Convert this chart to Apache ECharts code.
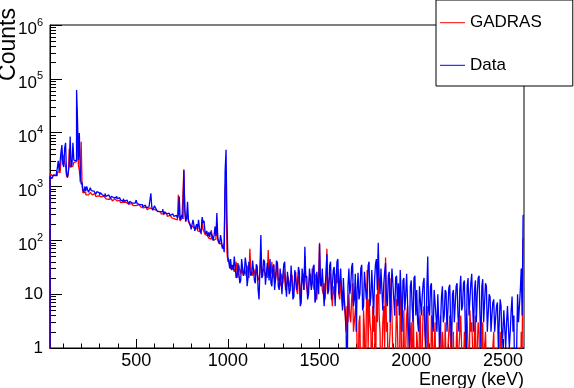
<!DOCTYPE html>
<html>
<head>
<meta charset="utf-8">
<title>GADRAS vs Data</title>
<script src="https://cdn.jsdelivr.net/npm/echarts@6/dist/echarts.min.js"></script>
<style>
  html, body { margin: 0; padding: 0; background: #fff; }
  #chart { width: 574px; height: 388px; }
</style>
</head>
<body>
<div id="chart"></div>
<script>
// spectrum in 5 keV bins, first bin low edge at 30 keV
const binStart = 30;
const binWidth = 5;

// GADRAS simulation (red), counts per bin, one row = 100 keV
const gadras = [
  1750, 1700, 1600, 1550, 1600, 1650, 1700, 1600, 1900, 2000, 1800, 1700, 3000, 4200, 4300, 3500, 2800, 2400, 1600, 1450,
  1700, 5000, 2300, 2200, 2400, 2500, 2800, 2700, 2900, 30000, 9000, 2500, 2000, 1200, 6800, 1000, 760, 720, 790, 700,
  760, 700, 720, 680, 780, 730, 700, 660, 740, 690, 650, 700, 670, 630, 690, 640, 600, 650, 660, 610,
  630, 590, 620, 580, 600, 570, 590, 560, 540, 580, 590, 550, 540, 560, 520, 550, 530, 500, 540, 510,
  520, 490, 510, 480, 500, 470, 490, 460, 480, 450, 470, 440, 420, 440, 450, 430, 460, 430, 420, 410,
  430, 400, 390, 410, 420, 390, 370, 390, 400, 370, 430, 380, 370, 350, 370, 350, 360, 340, 350, 330,
  340, 310, 330, 310, 300, 290, 320, 300, 280, 300, 290, 270, 280, 260, 270, 250, 260, 250, 240, 260,
  700, 280, 230, 250, 260, 240, 2100, 350, 220, 230, 300, 220, 210, 190, 200, 180, 170, 180, 160, 170,
  170, 150, 160, 145, 140, 130, 250, 160, 160, 130, 130, 120, 125, 110, 115, 105, 155, 110, 100, 95,
  105, 115, 200, 100, 90, 85, 85, 80, 75, 70, 90, 900, 1500, 60, 40, 45, 35, 30, 32, 30,
  32, 26, 30, 40, 26, 20, 35, 28, 24, 30, 28, 22, 30, 26, 22, 34, 25, 20, 70, 28,
  26, 22, 30, 26, 22, 30, 28, 18, 20, 26, 60, 24, 26, 30, 30, 22, 24, 20, 66, 24,
  30, 24, 40, 20, 36, 16, 18, 26, 40, 18, 20, 14, 24, 20, 16, 30, 28, 12, 14, 22,
  20, 14, 16, 24, 22, 10, 12, 20, 26, 12, 10, 22, 18, 8, 14, 20, 24, 12, 50, 18,
  18, 10, 14, 20, 24, 14, 30, 16, 12, 24, 20, 8, 16, 22, 90, 14, 20, 12, 10, 16,
  8, 14, 70, 12, 16, 20, 25, 10, 6, 14, 14, 8, 24, 16, 30, 10, 8, 18, 18, 6,
  12, 6, 4, 2, 6, 3, 10, 4, 3, 8, 16, 2, 2, 5, 7, 1, 0, 3, 4, 0,
  1, 0, 5, 2, 0, 4, 28, 1, 8, 3, 2, 0, 6, 2, 4, 0, 10, 3, 55, 4,
  2, 0, 0, 3, 6, 1, 48, 2, 3, 0, 1, 2, 20, 4, 4, 0, 0, 1, 8, 2,
  2, 0, 14, 3, 0, 1, 5, 0, 1, 4, 6, 0, 0, 2, 3, 0, 7, 1, 1, 0,
  2, 1, 0, 3, 4, 0, 1, 5, 6, 2, 2, 0, 6, 1, 1, 0, 4, 2, 0, 1,
  3, 0, 1, 0, 0, 2, 4, 0, 2, 1, 0, 3, 3, 0, 1, 2, 4, 1, 0, 0,
  2, 0, 0, 1, 3, 0, 1, 2, 4, 1, 0, 0, 2, 1, 5, 3, 1, 0, 5, 2,
  3, 1, 0, 2, 4, 0, 1, 3, 2, 0, 0, 1, 3, 0, 1, 2, 2, 0, 0, 1,
  1, 0, 0, 1, 2, 0, 0, 1, 1, 0, 0, 2, 2, 0, 0, 1, 1, 0, 0, 1,
  0, 0, 1, 0, 0, 0, 0, 0, 0, 0, 0, 1, 1, 0, 2, 1, 106
];

// measured spectrum (blue)
const measured = [
  1550, 1450, 1400, 1500, 1650, 1550, 1600, 1800, 2200, 3000, 1900, 1800, 4400, 5900, 2600, 2300, 5200, 6500, 1700, 1500,
  1900, 2500, 8500, 2300, 2600, 6500, 3100, 2900, 3000, 62000, 18000, 3100, 9800, 1900, 1100, 1200, 850, 780, 1000, 820,
  1000, 880, 780, 860, 950, 840, 900, 820, 760, 840, 720, 800, 860, 760, 690, 770, 800, 700, 740, 660,
  740, 650, 620, 700, 760, 680, 600, 660, 690, 610, 560, 640, 650, 590, 560, 620, 640, 560, 590, 530,
  590, 530, 500, 560, 580, 520, 470, 530, 550, 490, 450, 510, 490, 450, 560, 480, 500, 460, 470, 430,
  460, 420, 410, 450, 440, 400, 380, 420, 430, 390, 750, 420, 360, 400, 440, 400, 390, 350, 370, 340,
  360, 320, 340, 380, 300, 340, 350, 310, 290, 320, 330, 290, 270, 310, 320, 280, 260, 290, 300, 260,
  300, 650, 240, 270, 300, 250, 2000, 380, 230, 260, 520, 240, 230, 190, 160, 200, 240, 190, 150, 180,
  200, 160, 240, 170, 140, 160, 270, 210, 230, 150, 130, 150, 120, 140, 115, 145, 150, 120, 100, 125,
  180, 120, 320, 110, 95, 85, 125, 100, 70, 80, 60, 1900, 4800, 250, 50, 40, 30, 45, 28, 35,
  28, 50, 48, 20, 22, 38, 40, 16, 18, 45, 42, 22, 25, 48, 35, 14, 20, 40, 38, 22,
  24, 42, 45, 18, 16, 36, 33, 12, 8, 30, 125, 20, 22, 44, 40, 15, 15, 38, 28, 18,
  45, 16, 14, 32, 35, 12, 20, 42, 38, 14, 12, 30, 30, 10, 22, 36, 40, 14, 9, 26,
  28, 10, 12, 34, 35, 8, 9, 28, 30, 12, 15, 32, 26, 6, 7, 30, 32, 12, 76, 20,
  22, 8, 10, 30, 30, 12, 16, 32, 35, 7, 8, 26, 28, 10, 85, 16, 14, 30, 30, 6,
  6, 24, 55, 10, 12, 34, 40, 8, 8, 28, 32, 6, 18, 40, 45, 10, 10, 30, 28, 5,
  20, 8, 5, 2, 0, 14, 30, 10, 14, 32, 38, 6, 8, 24, 2, 12, 25, 8, 10, 30,
  35, 5, 6, 26, 28, 8, 12, 34, 40, 6, 9, 28, 30, 4, 18, 36, 45, 12, 90, 20,
  10, 30, 32, 5, 15, 26, 38, 8, 6, 22, 26, 3, 12, 30, 30, 8, 4, 20, 22, 6,
  16, 4, 28, 10, 2, 18, 20, 5, 10, 24, 24, 2, 1, 14, 18, 6, 3, 20, 22, 4,
  12, 3, 2, 14, 15, 4, 9, 16, 20, 2, 1, 12, 50, 5, 4, 14, 16, 3, 2, 12,
  12, 4, 2, 10, 10, 1, 1, 9, 14, 3, 4, 12, 11, 2, 2, 13, 15, 3, 1, 10,
  12, 3, 3, 14, 16, 4, 2, 12, 22, 5, 6, 16, 18, 2, 1, 14, 20, 4, 4, 16,
  24, 6, 2, 12, 18, 3, 10, 20, 22, 4, 1, 14, 19, 3, 3, 16, 14, 2, 2, 10,
  9, 2, 4, 7, 8, 2, 2, 6, 7, 1, 3, 8, 6, 1, 2, 5, 5, 1, 3, 6,
  6, 1, 2, 5, 9, 2, 4, 0, 0, 1, 10, 3, 3, 12, 30, 4, 290
];

const xMajorTicks = [500, 1000, 1500, 2000, 2500];
const xMinorTicks = [100, 200, 300, 400, 600, 700, 800, 900, 1100, 1200, 1300, 1400,
  1600, 1700, 1800, 1900, 2100, 2200, 2300, 2400, 2600];
const yMajorTicks = [1, 10, 100, 1000, 10000, 100000, 1000000];
const yMinorTicks = [
  2, 3, 4, 5, 6, 7, 8, 9,
  20, 30, 40, 50, 60, 70, 80, 90,
  200, 300, 400, 500, 600, 700, 800, 900,
  2000, 3000, 4000, 5000, 6000, 7000, 8000, 9000,
  20000, 30000, 40000, 50000, 60000, 70000, 80000, 90000,
  200000, 300000, 400000, 500000, 600000, 700000, 800000, 900000
];

const FONT = '"Liberation Sans", Arial, Helvetica, sans-serif';
const EMPTY = 0.1; // empty bins fall below the log axis and get clipped

// histogram outline: starts on the floor, steps at each bin edge
function histPoints(counts) {
  const pts = [[binStart, EMPTY]];
  counts.forEach((c, i) => {
    pts.push([binStart + i * binWidth, c > 0 ? c : EMPTY]);
  });
  const last = counts[counts.length - 1];
  pts.push([binStart + counts.length * binWidth, last > 0 ? last : EMPTY]);
  return pts;
}

function yLabel(v) {
  if (v < 100) return String(v);
  return '{b|10}{s|' + Math.round(Math.log10(v)) + '}';
}

const chart = echarts.init(document.getElementById('chart'), null, { renderer: 'canvas' });

const option = {
  animation: false,
  textStyle: { fontFamily: FONT },
  grid: {
    left: 50, right: 50, top: 25, bottom: 40,
    show: true, borderColor: '#000', borderWidth: 1,
    outerBoundsMode: 'none'
  },
  legend: {
    orient: 'vertical',
    left: 436, top: 0,
    padding: [12.7, 31, 10.7, 4],
    itemGap: 22.6,
    itemWidth: 25, itemHeight: 1,
    icon: 'rect',
    selectedMode: false,
    backgroundColor: '#fff',
    borderColor: '#000', borderWidth: 1, borderRadius: 0,
    textStyle: { fontSize: 17, lineHeight: 20, color: '#000', fontFamily: FONT }
  },
  xAxis: [
    {
      type: 'value', min: 30, max: 2615, position: 'bottom',
      axisLine: { show: true, lineStyle: { color: '#000', width: 1 } },
      axisTick: { show: true, inside: true, length: 9, customValues: xMajorTicks, lineStyle: { color: '#000' } },
      axisLabel: { customValues: xMajorTicks, formatter: v => String(v), fontSize: 18, color: '#000', margin: 4, fontFamily: FONT },
      splitLine: { show: false }
    },
    {
      type: 'value', min: 30, max: 2615, position: 'bottom',
      axisLine: { show: false },
      axisTick: { show: true, inside: true, length: 4.5, customValues: xMinorTicks, lineStyle: { color: '#000' } },
      axisLabel: { show: false },
      splitLine: { show: false }
    }
  ],
  yAxis: [
    {
      type: 'log', logBase: 10, min: 1, max: 1000000, position: 'left',
      axisLine: { show: true, lineStyle: { color: '#000', width: 1 } },
      axisTick: { show: true, inside: true, length: 12, customValues: yMajorTicks, lineStyle: { color: '#000' } },
      axisLabel: {
        customValues: yMajorTicks, formatter: yLabel,
        fontSize: 17, color: '#000', margin: 7, fontFamily: FONT,
        rich: {
          b: { fontSize: 17, color: '#000', fontFamily: FONT, padding: [9, 0, 0, 0] },
          s: { fontSize: 11, color: '#000', fontFamily: FONT, padding: [0, 0, 5, 0] }
        }
      },
      splitLine: { show: false }
    },
    {
      type: 'log', logBase: 10, min: 1, max: 1000000, position: 'left',
      axisLine: { show: false },
      axisTick: { show: true, inside: true, length: 6, customValues: yMinorTicks, lineStyle: { color: '#000' } },
      axisLabel: { show: false },
      splitLine: { show: false }
    }
  ],
  graphic: [
    {
      type: 'text', x: 8.5, y: 44.5, rotation: Math.PI / 2,
      style: { text: 'Counts', font: '23px ' + FONT, fill: '#000',
        align: 'center', verticalAlign: 'middle', textAlign: 'center', textVerticalAlign: 'middle' }
    },
    {
      type: 'text', x: 524, y: 380,
      style: { text: 'Energy (keV)', font: '18px ' + FONT, fill: '#000',
        align: 'right', verticalAlign: 'middle', textAlign: 'right', textVerticalAlign: 'middle' }
    }
  ],
  series: [
    {
      name: 'GADRAS', type: 'line', step: 'end',
      data: histPoints(gadras),
      symbol: 'none', showSymbol: false, silent: true, clip: true,
      color: '#ff0000', lineStyle: { width: 1.3, color: '#ff0000' }, z: 2
    },
    {
      name: 'Data', type: 'line', step: 'end',
      data: histPoints(measured),
      symbol: 'none', showSymbol: false, silent: true, clip: true,
      color: '#0000ff', lineStyle: { width: 1.3, color: '#0000ff' }, z: 3
    }
  ]
};

chart.setOption(option);
</script>
</body>
</html>
